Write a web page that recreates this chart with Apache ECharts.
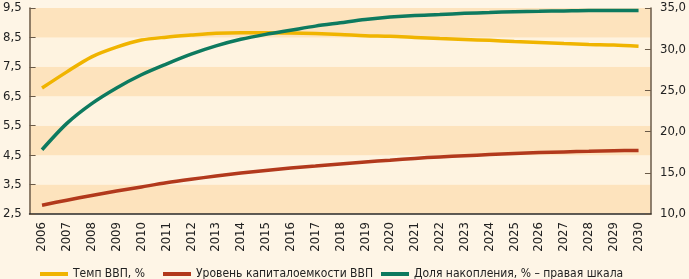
<!DOCTYPE html>
<html>
<head>
<meta charset="utf-8">
<script src="https://cdn.jsdelivr.net/npm/echarts@6/dist/echarts.min.js"></script>
<style>
  html, body { margin: 0; padding: 0; background: #fef5e6; }
  #box { width: 689px; height: 279px; }
</style>
</head>
<body>
<div id="box"></div>
<script>
// данные ---------------------------------------------------------------
var years = ['2006', '2007', '2008', '2009', '2010', '2011', '2012', '2013', '2014', '2015',
    '2016', '2017', '2018', '2019', '2020', '2021', '2022', '2023', '2024', '2025',
    '2026', '2027', '2028', '2029', '2030'];
var tempVVP = [6.78, 7.33, 7.84, 8.17, 8.41, 8.51, 8.58, 8.64, 8.66, 8.66,
    8.65, 8.63, 8.6, 8.56, 8.54, 8.5, 8.46, 8.43, 8.4, 8.36,
    8.33, 8.29, 8.26, 8.24, 8.2];
var kapitaloemkost = [2.8, 2.97, 3.13, 3.28, 3.42, 3.56, 3.68, 3.79, 3.89, 3.98,
    4.06, 4.13, 4.2, 4.27, 4.33, 4.39, 4.44, 4.48, 4.52, 4.56,
    4.59, 4.61, 4.63, 4.65, 4.66];
var nakoplenie = [17.8, 21.0, 23.4, 25.3, 26.9, 28.2, 29.4, 30.4, 31.2, 31.8,
    32.3, 32.8, 33.2, 33.6, 33.9, 34.1, 34.2, 34.35, 34.45, 34.55,
    34.6, 34.65, 34.7, 34.7, 34.7];
var names = ['Темп ВВП, %', 'Уровень капиталоемкости ВВП', 'Доля накопления, % – правая шкала'];
var colors = ['#f0b400', '#b2391c', '#0d7a5f'];

var font = '"Liberation Sans Narrow", "DejaVu Sans Condensed", "Roboto", sans-serif';
var axisColor = '#6a5a48';

var myChart = echarts.init(document.getElementById('box'));

// отдельная легенда на каждую серию, чтобы расставить их как в оригинале
function legendItem(i, left) {
    return {
        left: left,
        top: 263,
        itemWidth: 28,
        itemHeight: 4,
        icon: 'rect',
        data: [names[i]],
        selectedMode: false,
        textStyle: { fontFamily: font, fontSize: 12, color: '#222' }
    };
}

var option = {
    backgroundColor: '#fef5e6',
    animation: false,
    color: colors,
    grid: { left: 27, right: 35, top: 8, bottom: 65 },
    legend: [legendItem(0, 35), legendItem(1, 158), legendItem(2, 376)],
    xAxis: {
        type: 'category',
        data: years,
        boundaryGap: true,
        axisLine: { lineStyle: { color: '#2a2a2a', width: 1.5 } },
        axisTick: { inside: true, length: 4, lineStyle: { color: '#2a2a2a' } },
        axisLabel: {
            rotate: 90, margin: 8, interval: 0,
            fontFamily: font, fontSize: 13, color: '#222'
        }
    },
    yAxis: [
        {
            type: 'value',
            min: 2.5, max: 9.5, interval: 1,
            axisLine: { show: true, lineStyle: { color: axisColor, width: 1.5 } },
            axisTick: { show: true, inside: true, length: 6, lineStyle: { color: axisColor } },
            axisLabel: {
                margin: 8, fontFamily: font, fontSize: 13, color: '#222',
                formatter: function (v) { return v.toFixed(1).replace('.', ','); }
            },
            splitLine: { show: false },
            splitArea: { show: true, areaStyle: { color: ['#fde3bd', '#fef3e0'] } }
        },
        {
            type: 'value',
            min: 10, max: 35, interval: 5,
            axisLine: { show: true, lineStyle: { color: axisColor, width: 1.5 } },
            axisTick: { show: true, inside: true, length: 6, lineStyle: { color: axisColor } },
            axisLabel: {
                margin: 9, fontFamily: font, fontSize: 13, color: '#222',
                formatter: function (v) { return v.toFixed(1).replace('.', ','); }
            },
            splitLine: { show: false }
        }
    ],
    series: [
        {
            name: names[0], type: 'line', yAxisIndex: 0, data: tempVVP,
            smooth: 0.3, showSymbol: false, lineStyle: { width: 3.5 }
        },
        {
            name: names[1], type: 'line', yAxisIndex: 0, data: kapitaloemkost,
            smooth: 0.3, showSymbol: false, lineStyle: { width: 3.5 }
        },
        {
            name: names[2], type: 'line', yAxisIndex: 1, data: nakoplenie,
            smooth: 0.3, showSymbol: false, lineStyle: { width: 3.5 }
        }
    ]
};

option && myChart.setOption(option);
</script>
</body>
</html>
